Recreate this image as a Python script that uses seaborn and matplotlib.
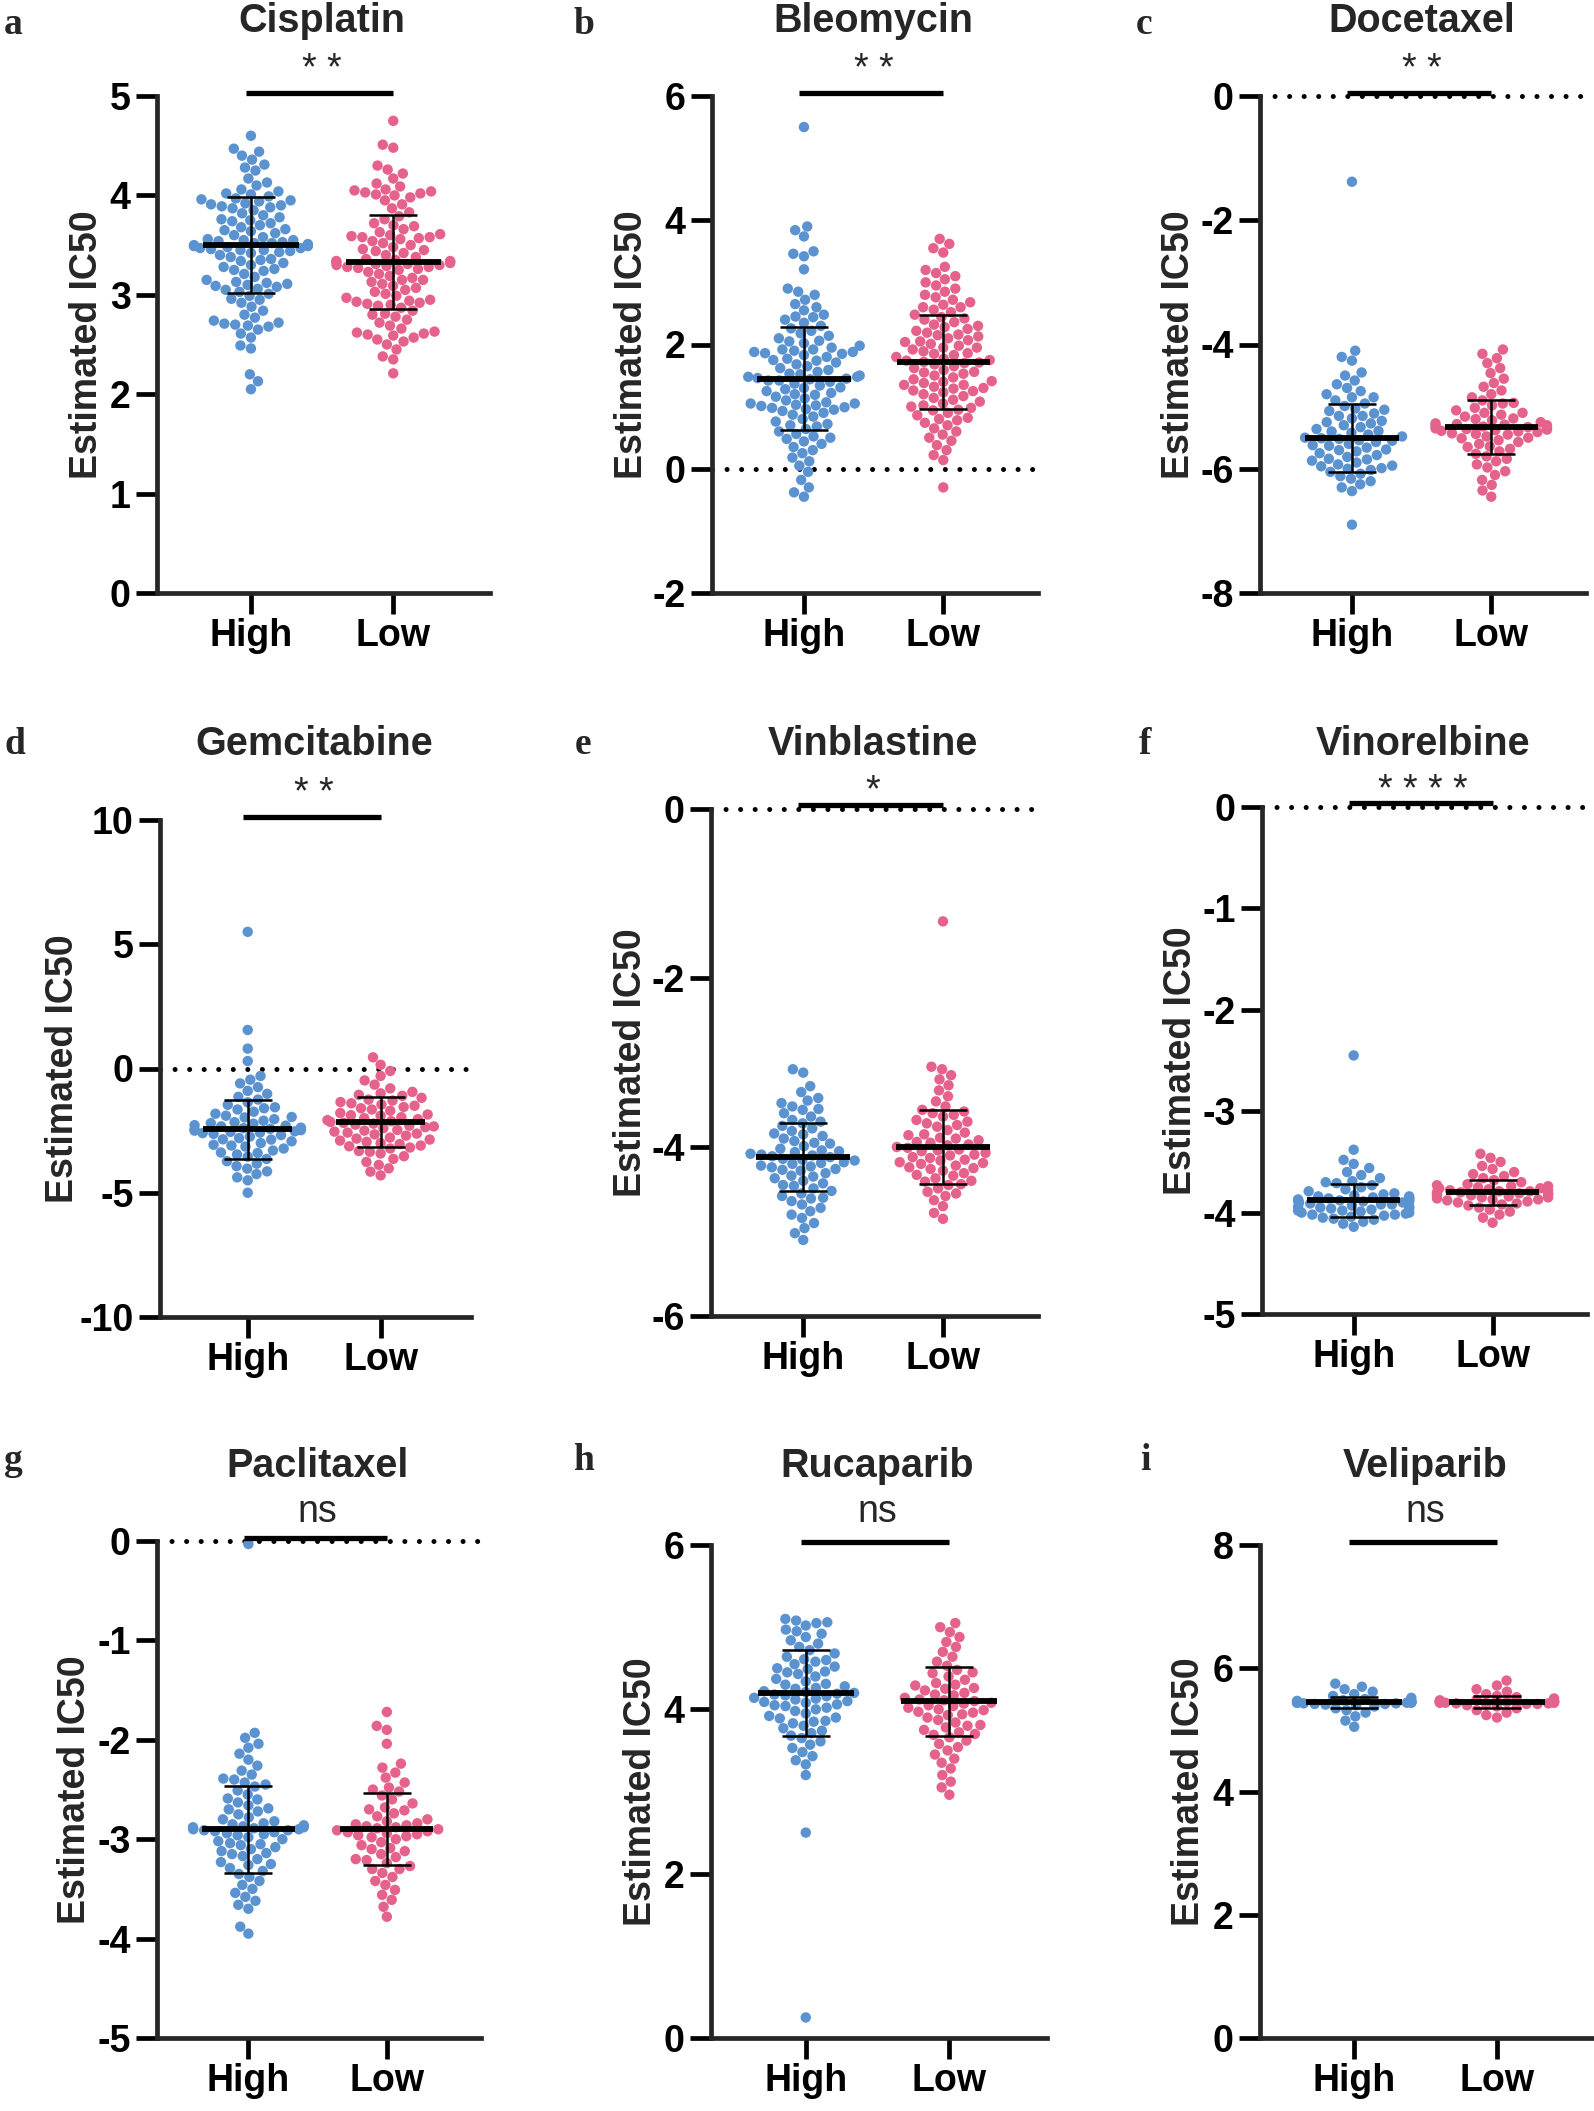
import numpy as np
import pandas as pd
import matplotlib
matplotlib.use("Agg")
import matplotlib.pyplot as plt
import matplotlib.transforms as mtransforms
import seaborn as sns

sns.set_style("ticks")
plt.rcParams['font.family'] = ['Liberation Sans', 'DejaVu Sans']
plt.rcParams['axes.unicode_minus'] = False

W, H = 1594, 2111
BLUE = "#5B93D1"
PINK = "#E5628B"

groups = ["High", "Low"]
drugs = ["Cisplatin", "Bleomycin", "Docetaxel", "Gemcitabine", "Vinblastine",
         "Vinorelbine", "Paclitaxel", "Rucaparib", "Veliparib"]
letters = ["a", "b", "c", "d", "e", "f", "g", "h", "i"]
sig_labels = ["* *", "* *", "* *", "* *", "*", "* * * *", "ns", "ns", "ns"]
y_limits = [(0, 5), (-2, 6), (-8, 0), (-10, 10), (-6, 0), (-5, 0), (-5, 0), (0, 6), (0, 8)]
y_steps = [1, 2, 2, 5, 2, 1, 1, 2, 2]
zero_line = [False, True, True, True, True, True, True, False, False]

# mean and SD shown by the bars
mean_high = [3.50, 1.45, -5.50, -2.45, -4.12, -3.88, -2.90, 4.20, 5.45]
mean_low = [3.33, 1.72, -5.33, -2.15, -4.00, -3.80, -2.90, 4.10, 5.45]
sd_high = [0.48, 0.83, 0.55, 1.20, 0.40, 0.16, 0.44, 0.52, 0.09]
sd_low = [0.47, 0.76, 0.43, 1.00, 0.44, 0.125, 0.36, 0.42, 0.095]

# estimated IC50 values per sample
cis_high = [4.60, 4.47, 4.44, 4.40, 4.36, 4.31, 4.28, 4.25, 4.17, 4.13, 4.10, 4.06, 4.04, 4.02, 4.01,
            3.99, 3.97, 3.95, 3.94, 3.92, 3.90, 3.89, 3.87, 3.85, 3.82, 3.80, 3.78, 3.76, 3.74, 3.72,
            3.70, 3.68, 3.66, 3.64, 3.62, 3.60, 3.58, 3.56, 3.55, 3.54, 3.53, 3.52, 3.51, 3.50, 3.49,
            3.48, 3.47, 3.46, 3.45, 3.44, 3.42, 3.40, 3.38, 3.36, 3.34, 3.32, 3.30, 3.28, 3.26, 3.24,
            3.21, 3.18, 3.15, 3.13, 3.11, 3.10, 3.08, 3.06, 3.03, 3.01, 2.99, 2.96, 2.92, 2.88, 2.84,
            2.80, 2.77, 2.74, 2.72, 2.70, 2.68, 2.65, 2.61, 2.57, 2.49, 2.46, 2.20, 2.13, 2.05,
            3.96, 3.91, 3.88, 3.55, 3.52, 3.50, 3.49, 3.47, 3.45, 3.43, 3.12, 3.09, 3.05, 2.71, 2.69,
            3.75, 3.65, 3.35, 3.25, 2.95]
cis_low = [4.75, 4.51, 4.48, 4.30, 4.26, 4.22, 4.17, 4.12, 4.09, 4.06, 4.04, 4.02, 4.00, 3.98, 3.95,
           3.91, 3.87, 3.83, 3.79, 3.76, 3.72, 3.69, 3.66, 3.63, 3.61, 3.59, 3.58, 3.57, 3.56, 3.54,
           3.52, 3.50, 3.48, 3.46, 3.44, 3.42, 3.40, 3.38, 3.36, 3.35, 3.34, 3.33, 3.32, 3.31, 3.30,
           3.29, 3.28, 3.27, 3.25, 3.23, 3.21, 3.19, 3.17, 3.15, 3.13, 3.11, 3.09, 3.07, 3.05, 3.03,
           3.01, 2.99, 2.97, 2.95, 2.93, 2.91, 2.89, 2.87, 2.84, 2.81, 2.78, 2.75, 2.72, 2.69, 2.66,
           2.63, 2.61, 2.59, 2.57, 2.55, 2.53, 2.50, 2.45, 2.38, 2.35, 2.21,
           4.05, 4.03, 4.01, 3.60, 3.58, 3.34, 3.33, 3.31, 3.30, 3.28, 3.26, 2.94, 2.92, 2.90, 2.62,
           2.60, 3.45, 3.15, 3.70, 2.80]
bleo_high = [5.50, 3.90, 3.84, 3.74, 3.50, 3.46, 3.42, 3.21, 2.90, 2.85, 2.80, 2.72, 2.65, 2.60, 2.55,
             2.48, 2.44, 2.40, 2.35, 2.30, 2.26, 2.22, 2.18, 2.14, 2.10, 2.06, 2.02, 1.98, 1.95, 1.92,
             1.90, 1.88, 1.86, 1.83, 1.80, 1.77, 1.74, 1.71, 1.68, 1.65, 1.62, 1.59, 1.56, 1.53, 1.50,
             1.48, 1.46, 1.44, 1.42, 1.40, 1.37, 1.34, 1.31, 1.28, 1.25, 1.22, 1.19, 1.16, 1.13, 1.10,
             1.07, 1.05, 1.03, 1.01, 0.99, 0.96, 0.93, 0.90, 0.87, 0.84, 0.80, 0.76, 0.72, 0.68, 0.64,
             0.60, 0.56, 0.52, 0.48, 0.44, 0.40, 0.35, 0.30, 0.25, 0.18, 0.12, 0.05, -0.05, -0.18,
             -0.30, -0.38, -0.45,
             1.92, 1.88, 1.85, 1.52, 1.48, 1.45, 1.42, 1.05, 1.02, 0.98, 0.95, 2.05, 1.75, 1.30, 1.20,
             0.70, 2.45, 0.50]
bleo_low = [3.70, 3.62, 3.55, 3.48, 3.25, 3.20, 3.15, 3.10, 3.05, 3.00, 2.95, 2.90, 2.85, 2.80, 2.76,
            2.72, 2.68, 2.64, 2.60, 2.56, 2.52, 2.48, 2.44, 2.40, 2.36, 2.32, 2.28, 2.25, 2.22, 2.19,
            2.16, 2.13, 2.10, 2.07, 2.04, 2.01, 1.98, 1.95, 1.92, 1.89, 1.86, 1.83, 1.80, 1.77, 1.74,
            1.71, 1.68, 1.65, 1.62, 1.59, 1.56, 1.53, 1.50, 1.47, 1.44, 1.41, 1.38, 1.35, 1.32, 1.29,
            1.26, 1.23, 1.20, 1.17, 1.14, 1.11, 1.08, 1.05, 1.02, 0.98, 0.94, 0.90, 0.86, 0.82, 0.78,
            0.74, 0.70, 0.65, 0.60, 0.55, 0.50, 0.45, 0.38, 0.30, 0.22, 0.14, -0.30,
            2.42, 2.30, 2.05, 1.95, 1.75, 1.72, 1.70, 1.40, 1.35, 1.30, 1.25, 1.00, 0.95, 2.15, 1.85,
            1.55, 0.80, 2.60]
doce_high = [-1.38, -4.10, -4.20, -4.26, -4.45, -4.50, -4.58, -4.64, -4.70, -4.75, -4.80, -4.85, -4.90,
             -4.95, -4.99, -5.03, -5.07, -5.11, -5.15, -5.19, -5.23, -5.27, -5.30, -5.33, -5.36, -5.39,
             -5.42, -5.45, -5.48, -5.51, -5.54, -5.57, -5.60, -5.63, -5.66, -5.69, -5.72, -5.75, -5.78,
             -5.81, -5.84, -5.87, -5.90, -5.93, -5.96, -5.99, -6.02, -6.05, -6.08, -6.12, -6.16, -6.20,
             -6.25, -6.30, -6.36, -6.90,
             -5.05, -5.25, -5.40, -5.50, -5.52, -5.55, -5.62, -5.70, -5.85, -5.95, -6.00, -5.15, -4.85]
doce_low = [-4.08, -4.15, -4.22, -4.30, -4.38, -4.46, -4.55, -4.62, -4.68, -4.74, -4.80, -4.85, -4.90,
            -4.94, -4.98, -5.02, -5.06, -5.10, -5.13, -5.16, -5.19, -5.22, -5.25, -5.27, -5.29, -5.31,
            -5.33, -5.35, -5.37, -5.39, -5.41, -5.43, -5.45, -5.48, -5.51, -5.54, -5.57, -5.60, -5.64,
            -5.68, -5.72, -5.76, -5.80, -5.84, -5.88, -5.93, -5.98, -6.04, -6.10, -6.18, -6.26, -6.35,
            -6.45,
            -5.20, -5.28, -5.30, -5.32, -5.34, -5.36, -5.38, -5.40, -5.44, -5.50, -5.10, -4.95, -5.65]
gem_high = [5.50, 1.55, 0.80, 0.30, -0.30, -0.45, -0.60, -0.75, -0.90, -1.02, -1.14, -1.25, -1.36,
            -1.46, -1.56, -1.65, -1.74, -1.82, -1.90, -1.97, -2.04, -2.10, -2.16, -2.22, -2.28, -2.33,
            -2.38, -2.43, -2.48, -2.53, -2.58, -2.63, -2.68, -2.74, -2.80, -2.86, -2.93, -3.00, -3.07,
            -3.14, -3.22, -3.30, -3.38, -3.46, -3.55, -3.64, -3.73, -3.83, -3.93, -4.03, -4.14, -4.25,
            -4.38, -4.50, -5.00,
            -2.20, -2.30, -2.40, -2.45, -2.50, -2.55, -2.60, -1.95, -2.85, -3.10, -1.60, -3.40]
gem_low = [0.45, 0.15, -0.10, -0.30, -0.48, -0.65, -0.80, -0.94, -1.00, -1.06, -1.18, -1.29, -1.35,
           -1.40, -1.50, -1.55, -1.60, -1.70, -1.79, -1.85, -1.88, -1.96, -2.00, -2.04, -2.12, -2.15,
           -2.19, -2.26, -2.30, -2.33, -2.40, -2.47, -2.50, -2.54, -2.62, -2.65, -2.70, -2.78, -2.86,
           -2.90, -2.95, -3.04, -3.10, -3.13, -3.22, -3.32, -3.35, -3.42, -3.53, -3.64, -3.76, -3.88,
           -4.02, -4.15, -4.30,
           -1.10, -1.45, -1.65, -1.90, -2.08, -2.22, -2.36, -2.58, -2.82, -3.00, -3.18, -1.25]
vinb_high = [-3.08, -3.12, -3.28, -3.35, -3.42, -3.45, -3.48, -3.52, -3.56, -3.60, -3.64, -3.68, -3.72,
             -3.75, -3.78, -3.81, -3.84, -3.87, -3.90, -3.93, -3.96, -3.99, -4.02, -4.04, -4.06, -4.08,
             -4.10, -4.12, -4.14, -4.16, -4.18, -4.20, -4.22, -4.24, -4.26, -4.28, -4.31, -4.34, -4.37,
             -4.40, -4.43, -4.46, -4.49, -4.52, -4.55, -4.58, -4.61, -4.64, -4.68, -4.72, -4.76, -4.80,
             -4.84, -4.90, -4.96, -5.02, -5.10,
             -4.05, -4.09, -4.11, -4.15, -4.19, -4.23, -4.27, -4.35, -4.45, -3.95, -3.85, -3.70, -4.60,
             -3.55]
vinb_low = [-1.33, -3.05, -3.08, -3.15, -3.20, -3.27, -3.33, -3.40, -3.46, -3.52, -3.56, -3.58, -3.60,
            -3.64, -3.68, -3.72, -3.74, -3.76, -3.80, -3.83, -3.85, -3.86, -3.89, -3.92, -3.94, -3.95,
            -3.98, -4.01, -4.04, -4.05, -4.07, -4.10, -4.12, -4.13, -4.16, -4.18, -4.19, -4.22, -4.25,
            -4.26, -4.28, -4.31, -4.33, -4.34, -4.37, -4.41, -4.44, -4.45, -4.49, -4.53, -4.58, -4.63,
            -4.70, -4.78, -4.85,
            -3.90, -3.97, -4.00, -4.03, -4.09, -4.15, -4.20, -4.24, -3.70, -3.62, -4.40, -4.55]
vino_high = [-2.45, -3.38, -3.48, -3.52, -3.56, -3.60, -3.63, -3.66, -3.69, -3.71, -3.73, -3.75, -3.77,
             -3.79, -3.81, -3.83, -3.84, -3.85, -3.86, -3.87, -3.88, -3.89, -3.90, -3.91, -3.92, -3.93,
             -3.94, -3.95, -3.96, -3.97, -3.98, -3.99, -4.00, -4.01, -4.02, -4.03, -4.04, -4.05, -4.06,
             -4.07, -4.09, -4.11, -4.14,
             -3.84, -3.86, -3.87, -3.88, -3.89, -3.90, -3.92, -3.94, -3.96, -3.98, -4.00, -4.02, -3.82,
             -3.70]
vino_low = [-3.42, -3.46, -3.50, -3.54, -3.57, -3.60, -3.62, -3.64, -3.66, -3.68, -3.70, -3.72, -3.73,
            -3.74, -3.75, -3.76, -3.77, -3.78, -3.79, -3.80, -3.81, -3.82, -3.83, -3.84, -3.85, -3.86,
            -3.87, -3.88, -3.89, -3.91, -3.93, -3.95, -3.97, -3.99, -4.02, -4.05, -4.10,
            -3.76, -3.78, -3.79, -3.80, -3.81, -3.82, -3.83, -3.85, -3.87, -3.90, -3.74, -3.92]
pacl_high = [-0.03, -1.93, -1.98, -2.04, -2.08, -2.14, -2.20, -2.26, -2.31, -2.35, -2.39, -2.43, -2.47,
             -2.51, -2.55, -2.59, -2.63, -2.66, -2.69, -2.72, -2.75, -2.78, -2.80, -2.82, -2.84, -2.86,
             -2.88, -2.89, -2.90, -2.91, -2.92, -2.94, -2.96, -2.98, -3.00, -3.02, -3.04, -3.06, -3.08,
             -3.10, -3.12, -3.14, -3.17, -3.20, -3.23, -3.26, -3.29, -3.32, -3.35, -3.38, -3.42, -3.46,
             -3.50, -3.54, -3.58, -3.62, -3.66, -3.70, -3.88, -3.95,
             -2.88, -2.90, -2.91, -2.93, -2.87, -2.85, -2.95, -3.05, -3.15, -2.45, -2.40, -3.25, -2.60,
             -2.70]
pacl_low = [-1.72, -1.86, -1.90, -2.04, -2.24, -2.28, -2.33, -2.38, -2.43, -2.48, -2.52, -2.56, -2.60,
            -2.64, -2.68, -2.71, -2.74, -2.77, -2.80, -2.82, -2.84, -2.86, -2.88, -2.90, -2.92, -2.94,
            -2.96, -2.98, -3.00, -3.03, -3.06, -3.09, -3.12, -3.15, -3.18, -3.21, -3.24, -3.27, -3.30,
            -3.34, -3.38, -3.42, -3.46, -3.51, -3.56, -3.61, -3.68, -3.78,
            -2.87, -2.89, -2.91, -2.93, -2.95, -2.97, -2.85, -3.10, -3.20, -2.50, -2.70, -3.30]
ruca_high = [5.10, 5.08, 5.05, 5.02, 4.97, 4.92, 4.88, 4.84, 4.80, 4.76, 4.72, 4.68, 4.64, 4.61, 4.58,
             4.55, 4.52, 4.49, 4.46, 4.43, 4.40, 4.37, 4.34, 4.31, 4.28, 4.25, 4.22, 4.20, 4.18, 4.16,
             4.14, 4.12, 4.10, 4.08, 4.06, 4.04, 4.02, 4.00, 3.98, 3.95, 3.92, 3.89, 3.86, 3.83, 3.80,
             3.77, 3.74, 3.71, 3.68, 3.65, 3.61, 3.57, 3.53, 3.48, 3.43, 3.38, 3.33, 3.20, 2.50, 0.25,
             4.30, 4.26, 4.21, 4.19, 4.17, 4.13, 4.09, 4.05, 4.45, 4.50, 4.60, 3.90, 3.85, 4.95, 5.06]
ruca_low = [5.05, 5.00, 4.94, 4.88, 4.82, 4.76, 4.70, 4.64, 4.58, 4.53, 4.48, 4.44, 4.40, 4.36, 4.32,
            4.29, 4.26, 4.23, 4.20, 4.17, 4.14, 4.11, 4.08, 4.05, 4.02, 3.99, 3.96, 3.93, 3.90, 3.87,
            3.84, 3.81, 3.78, 3.75, 3.72, 3.69, 3.66, 3.62, 3.58, 3.54, 3.50, 3.45, 3.40, 3.35, 3.28,
            3.20, 3.12, 3.05, 2.96,
            4.12, 4.10, 4.07, 4.04, 4.00, 3.97, 3.94, 4.18, 4.25, 4.30, 3.80, 3.70, 4.45]
veli_high = [5.75, 5.70, 5.66, 5.62, 5.58, 5.55, 5.52, 5.50, 5.48, 5.47, 5.46, 5.45, 5.45, 5.44, 5.44,
             5.43, 5.42, 5.41, 5.40, 5.38, 5.35, 5.32, 5.28, 5.22, 5.15, 5.05,
             5.46, 5.45, 5.44, 5.43, 5.47, 5.42, 5.46, 5.44]
veli_low = [5.80, 5.72, 5.66, 5.62, 5.58, 5.55, 5.53, 5.51, 5.49, 5.48, 5.47, 5.46, 5.45, 5.45, 5.44,
            5.43, 5.42, 5.41, 5.40, 5.38, 5.35, 5.32, 5.28, 5.24, 5.20,
            5.46, 5.45, 5.44, 5.43, 5.47, 5.42, 5.46, 5.44]

high_values = [cis_high, bleo_high, doce_high, gem_high, vinb_high, vino_high, pacl_high, ruca_high, veli_high]
low_values = [cis_low, bleo_low, doce_low, gem_low, vinb_low, vino_low, pacl_low, ruca_low, veli_low]

# layout in pixels: axis left, top, bottom, width, ylabel offset
boxes = [(157, 96, 593, 333, 52), (712, 96, 593, 326, 62), (1260, 96, 593, 326, 63),
         (160, 820, 1317, 311, 79), (711, 809, 1316, 327, 62), (1262, 807, 1314, 325, 63),
         (157, 1541, 2038, 324, 64), (711, 1545, 2038, 336, 52), (1260, 1545, 2038, 334, 53)]
letter_x = [4, 574, 1136, 4, 575, 1139, 4, 573, 1140]
title_base = [32, 32, 32, 755, 755, 755, 1477, 1477, 1477]
sig_base = [80, 80, 80, 804, 801, 801, 1522, 1522, 1522]
letter_base = [34, 34, 34, 754, 754, 754, 1470, 1470, 1470]

fig = plt.figure(figsize=(W / 100, H / 100), dpi=100)

for k in range(9):
    left, top, bottom, width, lab_off = boxes[k]
    ax = fig.add_axes([left / W, 1 - bottom / H, width / W, (bottom - top) / H])

    df = pd.DataFrame({
        "group": ["High"] * len(high_values[k]) + ["Low"] * len(low_values[k]),
        "ic50": high_values[k] + low_values[k],
    })

    if zero_line[k]:
        ax.axhline(0, color="black", lw=3.6, ls=(0, (0.01, 2.9)),
                   dash_capstyle="round", zorder=1, clip_on=False)

    sns.swarmplot(data=df, x="group", y="ic50", hue="group", order=groups,
                  palette={"High": BLUE, "Low": PINK}, size=7.5, linewidth=0,
                  legend=False, ax=ax, zorder=2, warn_thresh=1)

    means = [mean_high[k], mean_low[k]]
    sds = [sd_high[k], sd_low[k]]
    xs = np.arange(len(groups))
    ax.errorbar(xs, means, yerr=sds, fmt="none", ecolor="black", elinewidth=1.8,
                capsize=17, capthick=1.8, zorder=4)
    ax.hlines(means, xs - 0.335, xs + 0.335, colors="black", lw=4.2, zorder=5)

    lo, hi = y_limits[k]
    ax.set_xlim(-0.66, 1.68)
    ax.set_ylim(lo, hi)
    ax.set_yticks(np.arange(lo, hi + y_steps[k] / 2, y_steps[k]))
    ax.set_xticks(xs)
    ax.set_xticklabels(groups)

    sns.despine(ax=ax)
    for side in ["left", "bottom"]:
        ax.spines[side].set_linewidth(3.4)
    ax.tick_params(axis="both", direction="out", length=15, width=3.4, colors="black")
    ax.tick_params(axis="y", labelsize=27, pad=4)
    ax.tick_params(axis="x", labelsize=27, pad=3)
    for lab in ax.get_yticklabels() + ax.get_xticklabels():
        lab.set_fontweight("bold")

    ax.set_xlabel("")
    ax.set_ylabel("Estimated IC50", fontsize=27, fontweight="bold")
    ax.yaxis.set_label_coords(-lab_off / width, 0.5)

    # significance bar just above the axis top
    trans = mtransforms.blended_transform_factory(ax.transData, ax.transAxes)
    ax.plot([-0.035, 1.0], [1.007, 1.007], color="black", lw=3.8,
            transform=trans, clip_on=False, zorder=6, solid_capstyle="butt")

    ftrans = mtransforms.blended_transform_factory(ax.transData, fig.transFigure)
    ax.text(0.5, 1 - title_base[k] / H, drugs[k], transform=ftrans, ha="center",
            va="baseline", fontsize=28.5, fontweight="bold")
    ax.text(0.5, 1 - sig_base[k] / H, sig_labels[k], transform=ftrans, ha="center",
            va="baseline", fontsize=27, fontweight="normal")

    fig.text(letter_x[k] / W, 1 - letter_base[k] / H, letters[k],
             family=["Liberation Serif", "DejaVu Serif"], fontsize=27,
             fontweight="bold", ha="left", va="baseline")

fig.savefig("out.png", dpi=100)
